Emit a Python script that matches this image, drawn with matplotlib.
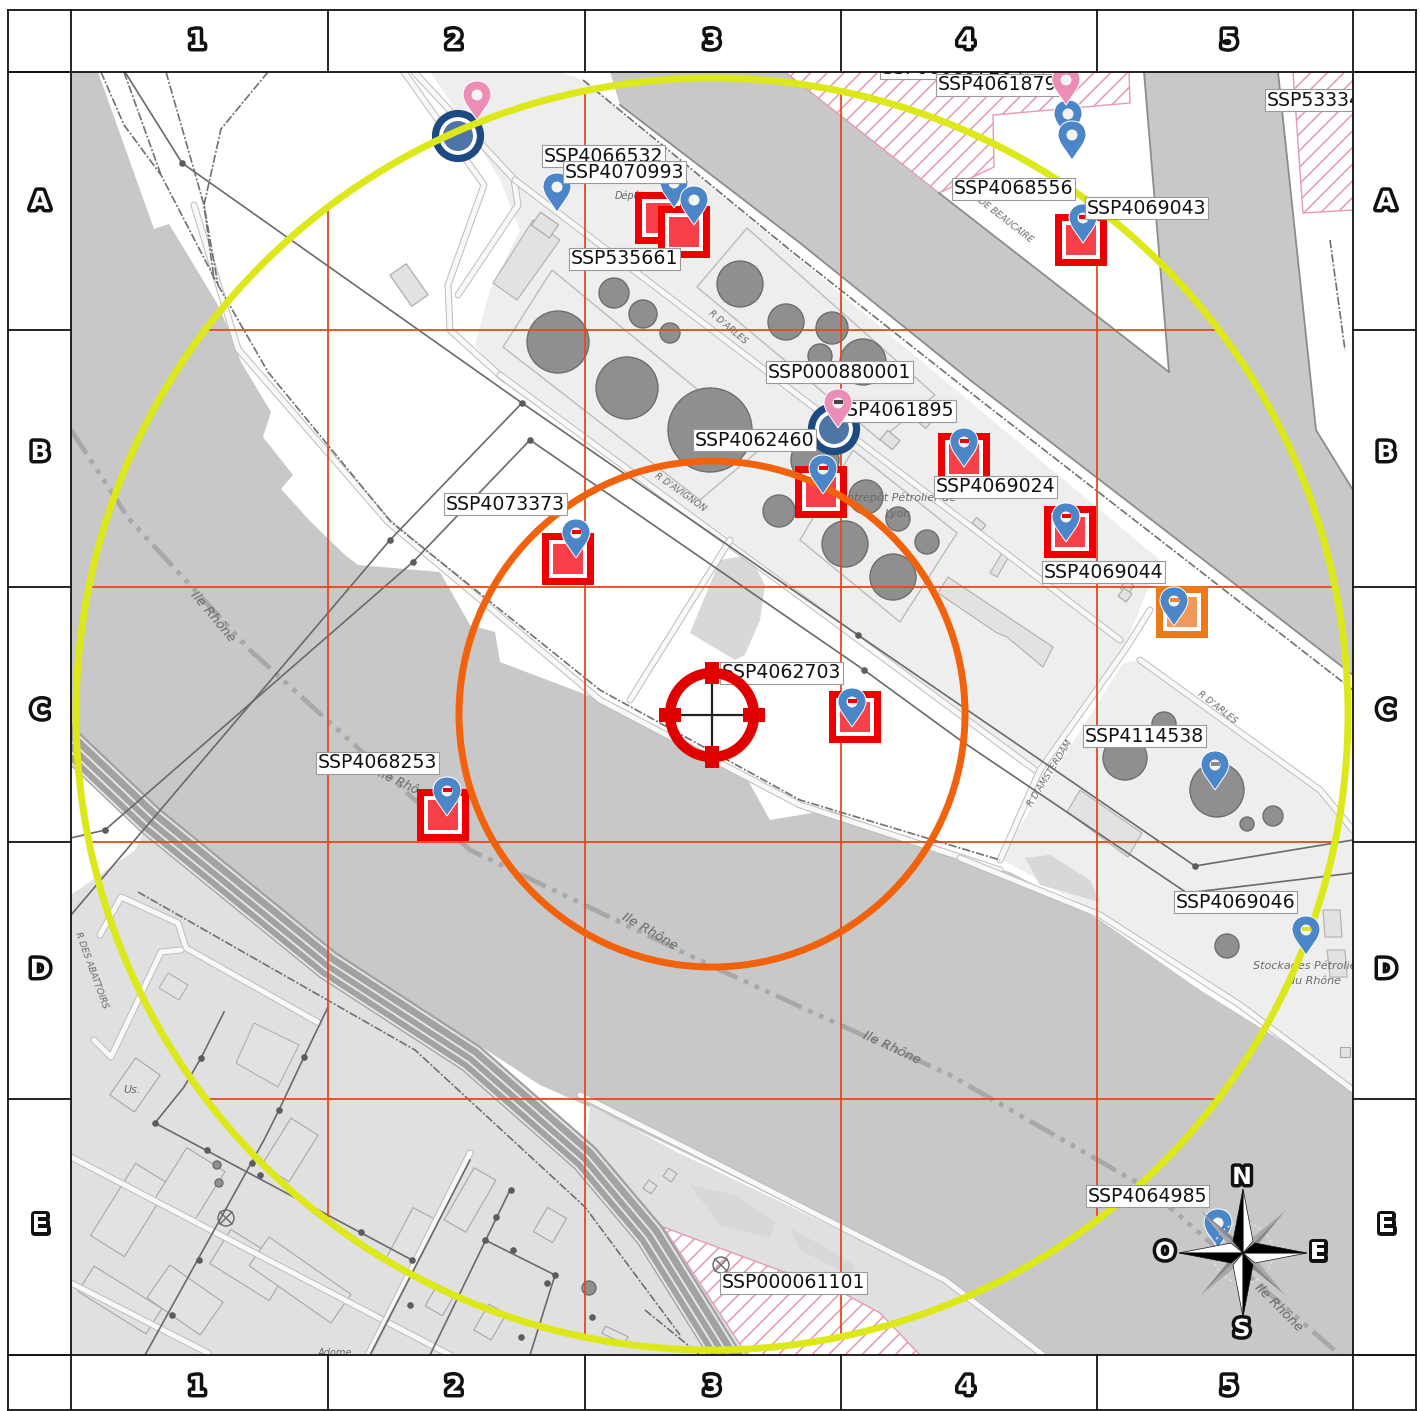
"""Site map sheet: 5x5 grid, two radius circles, polluted-site markers and labels."""

import matplotlib
matplotlib.use("Agg")
import matplotlib.patheffects as pe
import matplotlib.pyplot as plt
import numpy as np
from matplotlib.patches import Circle, PathPatch, Polygon, Rectangle
from matplotlib.path import Path

# sheet grid
COL_EDGES = [71, 328, 585, 841, 1097, 1353]
ROW_EDGES = [72, 330, 587, 842, 1099, 1355]
COL_LABELS = ["1", "2", "3", "4", "5"]
ROW_LABELS = ["A", "B", "C", "D", "E"]
COL_LABEL_X = [197, 454, 712, 966, 1229]
ROW_LABEL_Y = [202, 453, 711, 970, 1225]
SHEET_X = [8, 1416]
SHEET_Y = [10, 1410]

# radius circles
CENTER = (712, 714)
OUTER_R = 636
INNER_R = 253

# background areas
RIVER = [(71, 72), (98, 72), (154, 229), (169, 224), (218, 305), (231, 335), (241, 362), (271, 412), (263, 437),
         (293, 475), (281, 489), (311, 522), (345, 555), (358, 565), (440, 572), (470, 625), (495, 632), (500, 662),
         (600, 700), (690, 745), (745, 775), (770, 820), (830, 810), (960, 858), (1010, 872), (1100, 920),
         (1200, 990), (1353, 1085), (1353, 1355), (1043, 1355), (943, 1280), (673, 1147), (585, 1105), (540, 1085),
         (471, 1040), (328, 950), (150, 805), (71, 730)]
CANAL = [(610, 72), (785, 72), (939, 193), (1169, 372), (1144, 72), (1278, 72), (1316, 430), (1353, 490),
         (1353, 675), (970, 380), (800, 243), (620, 105)]
LAND_SW = [(71, 895), (135, 850), (150, 820), (328, 965), (471, 1058), (585, 1158), (650, 1235), (725, 1355),
           (71, 1355)]
LAND_S = [(585, 1158), (590, 1105), (673, 1150), (943, 1280), (1043, 1355), (725, 1355), (650, 1235)]
DEPOT_MAIN = [(430, 72), (560, 72), (583, 80), (800, 260), (1160, 560), (1123, 650), (1035, 770),
              (660, 490), (505, 385), (475, 345), (490, 290), (520, 230), (500, 180), (470, 130)]
LAND_EAST = [(1000, 858), (1123, 663), (1140, 660), (1320, 790), (1353, 830), (1353, 1085), (1240, 1005), (1100, 915)]
WHITE_TRIANGLE = [(1130, 650), (1142, 628), (1152, 650)]
PONDS = [
    [(690, 633), (720, 560), (750, 555), (765, 585), (760, 620), (745, 655), (735, 660)],
    [(1025, 858), (1050, 855), (1090, 880), (1100, 902), (1040, 885)],
    [(690, 1185), (735, 1195), (775, 1222), (770, 1238), (720, 1225)],
    [(790, 1228), (830, 1250), (855, 1265), (850, 1275), (800, 1250)],
]
PINK_AREAS = [
    [(785, 72), (1129, 72), (1130, 103), (993, 115), (994, 167), (939, 193)],
    [(1293, 72), (1353, 72), (1353, 210), (1303, 213)],
    [(663, 1227), (787, 1273), (843, 1293), (880, 1313), (920, 1355), (747, 1355)],
]

# linework
RIVER_AXIS = [(71, 430), (129, 519), (250, 650), (470, 850), (720, 970), (950, 1075), (1150, 1190), (1340, 1355)]
RAILS = [(71, 745), (150, 820), (328, 965), (471, 1058), (585, 1158), (650, 1235), (725, 1355)]
RAIL_OFFSETS = [-13, -5, 3, 12]
ROADS = [
    [(404, 72), (484, 185), (448, 285), (450, 330), (505, 380)],
    [(414, 72), (514, 179), (518, 205), (458, 295)],
    [(515, 180), (1120, 640)],
    [(1140, 660), (1320, 790), (1353, 830)],
    [(500, 375), (1035, 770)],
    [(1150, 610), (1125, 650), (1040, 770), (1000, 860)],
    [(630, 700), (730, 540)],
    [(194, 205), (238, 349), (388, 522), (600, 700), (800, 805), (1000, 870)],
    [(960, 858), (1100, 915), (1240, 1005), (1353, 1090)],
    [(580, 1095), (690, 1150), (945, 1280), (1043, 1355)],
    [(71, 1157), (383, 1320), (450, 1355)],
    [(71, 1283), (208, 1353)],
    [(368, 1355), (470, 1153)],
    [(100, 935), (121, 897), (178, 923), (186, 948), (319, 1023)],
    [(181, 950), (161, 952), (111, 1057), (94, 1040)],
]
DASH_RAILS = [
    [(101, 72), (124, 125), (161, 175), (218, 285), (268, 372), (391, 522), (600, 690), (800, 800), (1000, 860)],
    [(124, 72), (161, 175)],
    [(166, 72), (204, 205), (214, 279)],
    [(268, 72), (221, 129), (204, 205), (218, 285)],
    [(583, 80), (790, 250), (980, 400), (1353, 690)],
    [(138, 892), (415, 1050), (585, 1207), (680, 1335)],
    [(645, 1310), (700, 1355)],
    [(1330, 240), (1345, 350)],
]
SHORE_LINES = [
    [(620, 105), (800, 243), (970, 380), (1353, 675)],
    [(1144, 72), (1169, 372)],
    [(1278, 72), (1316, 430), (1353, 490)],
    [(939, 193), (1169, 372)],
]
POWER_LINES = [
    [(125, 72), (182, 163), (522, 403), (858, 635), (960, 705), (1195, 866), (1353, 840)],
    [(71, 915), (390, 540), (522, 403)],
    [(71, 838), (105, 830), (413, 562), (530, 440), (864, 670), (960, 740), (1187, 893), (1353, 873)],
    [(155, 1123), (412, 1260)],
    [(328, 1007), (304, 1057), (279, 1110), (264, 1140), (145, 1355)],
    [(224, 1012), (201, 1058), (184, 1087), (155, 1123)],
    [(510, 1190), (430, 1355)],
    [(470, 1160), (370, 1355)],
    [(485, 1240), (555, 1275), (530, 1355)],
]
POWER_NODES = [(182, 163), (522, 403), (530, 440), (390, 540), (413, 562), (858, 635), (864, 670), (1195, 866),
               (105, 830), (155, 1123), (207, 1150), (252, 1163), (279, 1110), (304, 1057), (201, 1058), (260, 1175),
               (199, 1260), (172, 1315), (361, 1232), (412, 1260), (511, 1190), (496, 1217), (485, 1240), (513, 1250),
               (555, 1275), (547, 1283), (410, 1305), (521, 1337), (592, 1317)]
# outlined compounds
COMPOUNDS = [
    [(503, 347), (552, 270), (765, 445), (700, 500)],
    [(697, 287), (747, 228), (935, 395), (880, 440)],
    [(900, 622), (957, 533), (853, 450), (800, 540)],
]
BUILDINGS_POLY = [
    [(948, 577), (1053, 647), (1043, 667), (1007, 637), (997, 633), (938, 593)],
    [(990, 573), (1002, 553), (1008, 558), (997, 577)],
    [(1067, 812), (1080, 790), (1142, 833), (1128, 857)],
    [(254, 1023), (299, 1045), (278, 1087), (236, 1063)],
    [(168, 973), (188, 985), (179, 1000), (159, 988)],
    [(493, 283), (533, 220), (560, 240), (517, 300)],
    [(1323, 910), (1340, 910), (1342, 937), (1325, 937)],
    [(1327, 950), (1345, 950), (1347, 977), (1330, 977)],
]
# cx, cy, length, width, angle
BUILDINGS = [
    (409, 285, 38, 20, 55), (545, 225, 22, 16, 35), (135, 1085, 30, 45, 35), (130, 1210, 40, 85, 32),
    (190, 1185, 45, 60, 32), (290, 1150, 32, 55, 32), (120, 1300, 80, 30, 32), (250, 1265, 70, 40, 32),
    (185, 1300, 65, 40, 35), (300, 1280, 100, 35, 35), (410, 1240, 25, 60, 28), (470, 1200, 25, 60, 30),
    (550, 1225, 22, 28, 30), (490, 1322, 20, 30, 30), (440, 1300, 20, 25, 30), (1345, 1052, 10, 10, 0),
    (890, 440, 16, 12, 40), (925, 420, 12, 12, 40), (979, 524, 12, 7, 40), (1127, 587, 10, 10, 35),
    (1125, 595, 10, 10, 35), (650, 1187, 10, 10, 35), (670, 1175, 10, 10, 35), (615, 1335, 25, 8, 25),
]

# storage tanks: x, y, radius
TANK_X = [558, 627, 710, 614, 643, 670, 740, 786, 832, 863, 820, 815, 779, 845, 866, 898, 927, 893,
          1125, 1164, 1217, 1247, 1273, 1227, 217, 219, 589]
TANK_Y = [342, 388, 430, 293, 314, 333, 284, 322, 328, 362, 356, 460, 511, 544, 497, 519, 542, 577,
          758, 724, 790, 824, 816, 946, 1165, 1183, 1288]
TANK_R = [31, 31, 42, 15, 14, 10, 23, 18, 16, 23, 12, 24, 16, 23, 17, 12, 12, 23, 22, 12, 27, 7, 10, 12, 4, 4, 7]

# site markers
RED_SQUARE_X = [661, 684, 1081, 568, 821, 964, 1070, 855, 443]
RED_SQUARE_Y = [218, 232, 240, 559, 492, 459, 532, 717, 815]
ORANGE_SQUARE = [(1182, 612)]
BLUE_PIN_X = [557, 674, 694, 1083, 1068, 1072, 964, 823, 576, 1066, 1174, 852, 447, 1215, 1306, 1218]
BLUE_PIN_Y = [212, 208, 225, 243, 139, 160, 467, 494, 558, 542, 626, 727, 816, 790, 955, 1248]
BLUE_PIN_MARK = [None, None, None, "#ee0000", None, None, "#ee0000", "#ee0000", "#ee0000", "#ee0000",
                 "#e88a3a", "#ee0000", "#ee0000", "#8a8a8a", "#d8e020", None]
PINK_PIN_X = [477, 1066, 838]
PINK_PIN_Y = [120, 105, 428]
PINK_PIN_MARK = [None, None, "#444444"]
RING_X = [458, 834]
RING_Y = [136, 429]

# site labels: text, left edge, centre y
LABEL_TEXT = ["SSP000897204", "SSP4061879", "SSP533349", "SSP4066532", "SSP4070993", "SSP535661", "SSP4068556",
              "SSP4069043", "SSP000880001", "SSP4061895", "SSP4062460", "SSP4069024", "SSP4073373", "SSP4069044",
              "SSP4062703", "SSP4114538", "SSP4068253", "SSP4069046", "SSP4064985", "SSP000061101"]
LABEL_X = [880, 936, 1265, 542, 563, 569, 952, 1085, 766, 833, 693, 934, 444, 1042, 720, 1083, 316, 1174, 1086, 720]
LABEL_Y = [68, 85, 100, 156, 172, 259, 189, 208, 372, 411, 440, 487, 504, 572, 673, 736, 763, 902, 1196, 1283]

# map names: text, x, y, rotation, size
MAP_TEXT = [("Ile Rhône", 213, 617, -50, 9.5), ("Ile Rhône", 650, 932, -30, 9.5), ("Ile Rhône", 892, 1048, -25, 9.5),
            ("Ile Rhône", 1278, 1307, -45, 9.5), ("Ile Rhône", 405, 785, -25, 9),
            ("R D'ARLES", 728, 327, -40, 6.5), ("R D'AVIGNON", 680, 492, -35, 6.5), ("R DE BEAUCAIRE", 1002, 218, -38, 6.5),
            ("R D'ARLES", 1217, 708, -38, 6.5), ("R D'AMSTERDAM", 1050, 773, 58, 6.5), ("R DES ABATTOIRS", 91, 970, -70, 6.5),
            ("Entrepôt Pétrolier de", 898, 498, 0, 8), ("Lyon", 898, 514, 0, 8), ("Stockages Pétroliers", 1310, 966, 0, 8),
            ("du Rhône", 1315, 981, 0, 8), ("Dépôt", 630, 196, 0, 7), ("Us.", 132, 1090, 0, 8), ("Adome", 335, 1353, 0, 7)]

# compass
COMPASS = (1243, 1253)
COMPASS_LEN = 64
COMPASS_DIAG = 60
COMPASS_LETTERS = [("N", 1242, 1177), ("E", 1318, 1252), ("S", 1242, 1329), ("O", 1165, 1252)]

RED = "#ee0000"
GRID_RED = "#e8481c"
YELLOW = "#dce81a"
ORANGE = "#f2620d"
NAVY = "#1d4a80"
BLUE = "#4a86c8"
PINK = "#ec8db5"

fig = plt.figure(figsize=(14.2, 14.11), dpi=100)
ax = fig.add_axes([0, 0, 1, 1])
ax.set_xlim(0, 1420)
ax.set_ylim(1411, 0)
ax.axis("off")

map_rect = Rectangle((COL_EDGES[0], ROW_EDGES[0]), COL_EDGES[-1] - COL_EDGES[0], ROW_EDGES[-1] - ROW_EDGES[0],
                     transform=ax.transData)


def clip(artist):
    artist.set_clip_on(True)
    artist.set_clip_path(map_rect)
    return artist


def area(points, color, z=1, edge="none", lw=0.8):
    clip(ax.add_patch(Polygon(points, closed=True, facecolor=color, edgecolor=edge, lw=lw, zorder=z)))


def polyline(points, **kwargs):
    xs, ys = zip(*points)
    clip(ax.plot(xs, ys, **kwargs)[0])


def pin(x, y, color, mark=None, z=12):
    # teardrop marker whose tip sits on x, y
    r = 14
    cy = y - 25
    verts = [(x, y), (x - r * 0.75, cy + r * 0.7), (x - r, cy + 4), (x - r, cy),
             (x - r, cy - r * 0.6), (x - r * 0.6, cy - r), (x, cy - r),
             (x + r * 0.6, cy - r), (x + r, cy - r * 0.6), (x + r, cy),
             (x + r, cy + 4), (x + r * 0.75, cy + r * 0.7), (x, y), (x, y)]
    codes = [Path.MOVETO, Path.LINETO, Path.CURVE3, Path.CURVE3,
             Path.CURVE4, Path.CURVE4, Path.CURVE4,
             Path.CURVE4, Path.CURVE4, Path.CURVE4,
             Path.CURVE3, Path.CURVE3, Path.LINETO, Path.CLOSEPOLY]
    clip(ax.add_patch(PathPatch(Path(verts, codes), facecolor=color, edgecolor="#ffffff", lw=0.7, zorder=z)))
    clip(ax.add_patch(Circle((x, cy), 5.5, facecolor="#f4f4f4", edgecolor="none", zorder=z + 0.1)))
    if mark:
        clip(ax.add_patch(Rectangle((x - 4.5, cy - 3), 9, 4, facecolor=mark, edgecolor="none", zorder=z + 0.2)))


def site_square(x, y, color, fill):
    half = 26
    ax.add_patch(Rectangle((x - half, y - half), 2 * half, 2 * half, facecolor=color, edgecolor="none", zorder=9))
    ax.add_patch(Rectangle((x - 19, y - 19), 38, 38, facecolor="#ffffff", edgecolor="none", zorder=9))
    ax.add_patch(Rectangle((x - 15, y - 15), 30, 30, facecolor=fill, edgecolor="none", zorder=9))


# background
ax.add_patch(Rectangle((COL_EDGES[0], ROW_EDGES[0]), COL_EDGES[-1] - COL_EDGES[0], ROW_EDGES[-1] - ROW_EDGES[0],
                       facecolor="#ffffff", edgecolor="none", zorder=0))
area(RIVER, "#c8c8c8")
area(CANAL, "#c8c8c8")
for land in (LAND_SW, LAND_S):
    area(land, "#e0e0e0", 2)
for land in (DEPOT_MAIN, LAND_EAST):
    area(land, "#eeeeee", 2)
area(WHITE_TRIANGLE, "#ffffff", 2)
for pond in PONDS:
    area(pond, "#d8d8d8", 2.5)
plt.rcParams["hatch.linewidth"] = 1.1
for poly in PINK_AREAS:
    clip(ax.add_patch(Polygon(poly, closed=True, facecolor="#ffffff", edgecolor="#e59ab0", hatch="//", lw=1, zorder=3)))

for poly in COMPOUNDS:
    area(poly, "none", 3, edge="#bcbcbc", lw=1)
for poly in BUILDINGS_POLY:
    area(poly, "#e2e2e2", 3, edge="#b0b0b0")
for cx, cy, w, h, angle in BUILDINGS:
    t = np.deg2rad(angle)
    ux, uy = np.cos(t), np.sin(t)
    vx, vy = -uy, ux
    corners = [(cx + sx * w / 2 * ux + sy * h / 2 * vx, cy + sx * w / 2 * uy + sy * h / 2 * vy)
               for sx, sy in ((-1, -1), (1, -1), (1, 1), (-1, 1))]
    area(corners, "#e2e2e2", 3, edge="#a8a8a8")

for road in ROADS:
    polyline(road, color="#bcbcbc", lw=5, zorder=4, solid_capstyle="round")
    polyline(road, color="#f8f8f8", lw=3.6, zorder=4, solid_capstyle="round")
for line in SHORE_LINES:
    polyline(line, color="#8c8c8c", lw=1.3, zorder=4)
for line in DASH_RAILS:
    polyline(line, color="#707070", lw=1.2, ls=(0, (5, 1.2, 1.2, 1.2)), zorder=4)

polyline(RIVER_AXIS, color="#a8a8a8", lw=3.4, ls=(0, (6, 1.5, 1, 1.5, 1, 1.5, 1, 1.5)), zorder=3)

rail_x, rail_y = np.array(RAILS, dtype=float).T
rail_nx, rail_ny = np.gradient(rail_y), -np.gradient(rail_x)
rail_norm = np.hypot(rail_nx, rail_ny)
rail_nx, rail_ny = rail_nx / rail_norm, rail_ny / rail_norm
clip(ax.plot(rail_x, rail_y, color="#a2a2a2", lw=22, zorder=4)[0])
for off in RAIL_OFFSETS:
    clip(ax.plot(rail_x + off * rail_nx, rail_y + off * rail_ny, color="#e6e6e6", lw=1.4, zorder=4)[0])

for line in POWER_LINES:
    polyline(line, color="#6a6a6a", lw=1.2, zorder=5)
node_x, node_y = zip(*POWER_NODES)
clip(ax.scatter(node_x, node_y, s=14, color="#5c5c5c", zorder=5))

for x, y, r in zip(TANK_X, TANK_Y, TANK_R):
    ax.add_patch(Circle((x, y), r, facecolor="#8f8f8f", edgecolor="#6e6e6e", lw=1, zorder=6))
for x, y in [(226, 1218), (721, 1265)]:
    ax.add_patch(Circle((x, y), 8, facecolor="none", edgecolor="#666666", lw=1, zorder=6))
    ax.plot([x - 6, x + 6], [y - 6, y + 6], color="#666666", lw=1, zorder=6)
    ax.plot([x - 6, x + 6], [y + 6, y - 6], color="#666666", lw=1, zorder=6)

for text, x, y, rot, size in MAP_TEXT:
    clip(ax.text(x, y, text, rotation=rot, fontsize=size, style="italic", color="#6a6a6a", ha="center",
                 va="center", rotation_mode="anchor", zorder=6))

# grid clipped by the outer circle, then the circles themselves
outer_clip = Circle(CENTER, OUTER_R, transform=ax.transData)
for x in COL_EDGES[1:-1]:
    ax.plot([x, x], [ROW_EDGES[0], ROW_EDGES[-1]], color=GRID_RED, lw=1.3, zorder=7)[0].set_clip_path(outer_clip)
for y in ROW_EDGES[1:-1]:
    ax.plot([COL_EDGES[0], COL_EDGES[-1]], [y, y], color=GRID_RED, lw=1.3, zorder=7)[0].set_clip_path(outer_clip)

# site symbols
for x, y in zip(RED_SQUARE_X, RED_SQUARE_Y):
    site_square(x, y, RED, "#f8404a")
for x, y in ORANGE_SQUARE:
    site_square(x, y, "#ea7a1a", "#ef9a5a")
for x, y in zip(RING_X, RING_Y):
    ax.add_patch(Circle((x, y), 22.5, facecolor="#ffffff", edgecolor=NAVY, lw=5.2, zorder=9))
    ax.add_patch(Circle((x, y), 15, facecolor="#4f74a6", edgecolor="none", zorder=9))

ax.add_patch(Circle(CENTER, OUTER_R, fill=False, edgecolor=YELLOW, lw=5, zorder=10))
ax.add_patch(Circle(CENTER, INNER_R, fill=False, edgecolor=ORANGE, lw=5, zorder=10))

# target
tx, ty = CENTER[0], CENTER[1] + 1
ax.plot([tx - 42, tx + 42], [ty, ty], color="#222222", lw=1.6, zorder=16)
ax.plot([tx, tx], [ty - 42, ty + 42], color="#222222", lw=1.6, zorder=16)
ax.add_patch(Circle((tx, ty), 42, fill=False, edgecolor="#e00000", lw=7.5, zorder=16))
for dx, dy in [(-42, 0), (42, 0), (0, -42), (0, 42)]:
    ax.add_patch(Rectangle((tx + dx - 11 if dx else tx - 7, ty + dy - 7 if dx else ty + dy - 11),
                           22 if dx else 14, 14 if dx else 22, facecolor="#e00000", edgecolor="none", zorder=16))

for x, y, mark in zip(BLUE_PIN_X, BLUE_PIN_Y, BLUE_PIN_MARK):
    pin(x, y, BLUE, mark)
for x, y, mark in zip(PINK_PIN_X, PINK_PIN_Y, PINK_PIN_MARK):
    pin(x, y, PINK, mark, z=16)

for text, x, y in zip(LABEL_TEXT, LABEL_X, LABEL_Y):
    clip(ax.text(x + 2, y, text, fontsize=13.6, color="#111111", va="center", ha="left", zorder=15,
                 bbox=dict(boxstyle="square,pad=0.08", facecolor="#ffffff", edgecolor="#9a9a9a", lw=0.8)))

# compass rose
cx, cy = COMPASS
ax.add_patch(Circle((cx, cy), 30, fill=False, edgecolor="#e4e4e4", lw=1, ls=(0, (2, 2)), zorder=16))
for angle in (45, 135, 225, 315):
    t = np.deg2rad(angle)
    ux, uy = np.cos(t), np.sin(t)
    nx, ny = -uy, ux
    ax.add_patch(Polygon([(cx, cy), (cx + COMPASS_DIAG * ux, cy + COMPASS_DIAG * uy),
                          (cx + 10 * ux + 5 * nx, cy + 10 * uy + 5 * ny)], facecolor="#8a8a8a", edgecolor="none", zorder=16))
    ax.add_patch(Polygon([(cx, cy), (cx + COMPASS_DIAG * ux, cy + COMPASS_DIAG * uy),
                          (cx + 10 * ux - 5 * nx, cy + 10 * uy - 5 * ny)], facecolor="#a8a8a8", edgecolor="none", zorder=16))
for angle in (0, 90, 180, 270):
    t = np.deg2rad(angle)
    ux, uy = np.cos(t), np.sin(t)
    nx, ny = -uy, ux
    tip = (cx + COMPASS_LEN * ux, cy + COMPASS_LEN * uy)
    ax.add_patch(Polygon([(cx, cy), tip, (cx + 12 * ux + 10 * nx, cy + 12 * uy + 10 * ny)],
                         facecolor="#ffffff", edgecolor="#111111", lw=0.5, zorder=17))
    ax.add_patch(Polygon([(cx, cy), tip, (cx + 12 * ux - 10 * nx, cy + 12 * uy - 10 * ny)],
                         facecolor="#000000", edgecolor="#111111", lw=0.5, zorder=17))

outline = [pe.withStroke(linewidth=5, foreground="#111111")]
for letter, x, y in COMPASS_LETTERS:
    ax.text(x, y, letter, fontsize=17, fontweight="bold", color="#ffffff", ha="center", va="center",
            path_effects=outline, zorder=18)

# sheet frame
for x in [SHEET_X[0], SHEET_X[1]]:
    ax.plot([x, x], [SHEET_Y[0], SHEET_Y[1]], color="#111111", lw=1.3, zorder=19)
for y in [SHEET_Y[0], SHEET_Y[1], ROW_EDGES[0], ROW_EDGES[-1]]:
    ax.plot(SHEET_X, [y, y], color="#111111", lw=1.3, zorder=19)
for x in COL_EDGES:
    ax.plot([x, x], [SHEET_Y[0], ROW_EDGES[0]], color="#111111", lw=1.3, zorder=19)
    ax.plot([x, x], [ROW_EDGES[-1], SHEET_Y[1]], color="#111111", lw=1.3, zorder=19)
for x in (COL_EDGES[0], COL_EDGES[-1]):
    ax.plot([x, x], [ROW_EDGES[0], ROW_EDGES[-1]], color="#111111", lw=1.3, zorder=19)
for y in ROW_EDGES:
    ax.plot([SHEET_X[0], COL_EDGES[0]], [y, y], color="#111111", lw=1.3, zorder=19)
    ax.plot([COL_EDGES[-1], SHEET_X[1]], [y, y], color="#111111", lw=1.3, zorder=19)

for label, x in zip(COL_LABELS, COL_LABEL_X):
    for y in (41, 1387):
        ax.text(x, y, label, fontsize=18, fontweight="bold", color="#ffffff", ha="center", va="center",
                path_effects=outline, zorder=20)
for label, y in zip(ROW_LABELS, ROW_LABEL_Y):
    for x in (40, 1386):
        ax.text(x, y, label, fontsize=18, fontweight="bold", color="#ffffff", ha="center", va="center",
                path_effects=outline, zorder=20)

fig.savefig("out.png", dpi=100, facecolor="#ffffff")
